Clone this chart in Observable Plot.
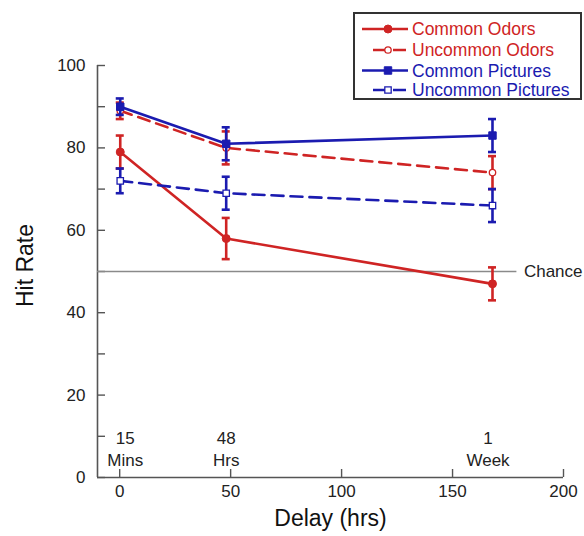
<!DOCTYPE html>
<html>
<head>
<meta charset="utf-8">
<script src="https://cdn.jsdelivr.net/npm/d3@7"></script>
<script src="https://cdn.jsdelivr.net/npm/@observablehq/plot@0.6"></script>
<style>
  body { margin: 0; background: white; }
  #wrap { position: relative; width: 584px; height: 536px; font-family: "Liberation Sans", Arial, sans-serif; }
  #legend { position: absolute; left: 0; top: 0; }
</style>
</head>
<body>
<div id="wrap"></div>
<script>
// ---- data ----
const delays = [0.25, 48, 168];               // hours (15 mins, 48 hrs, 1 week)
const delayLabels = ["15\nMins", "48\nHrs", "1\nWeek"];
const delayLabelX = [2.5, 48, 166];
const seriesNames = ["Common Odors", "Uncommon Odors", "Common Pictures", "Uncommon Pictures"];
const commonOdors = [79, 58, 47];
const commonOdorsErr = [4, 5, 4];
const uncommonOdors = [89, 80, 74];
const uncommonOdorsErr = [2, 4, 4];
const commonPictures = [90, 81, 83];
const commonPicturesErr = [2, 4, 4];
const uncommonPictures = [72, 69, 66];
const uncommonPicturesErr = [3, 4, 4];
const chanceLevel = 50;
const chanceEnd = 179;
const yTicks = [0, 10, 20, 30, 40, 50, 60, 70, 80, 90, 100];
const yLabels = [0, 20, 40, 60, 80, 100];
const xTicks = [0, 50, 100, 150, 200];

// ---- styles ----
const red = "#cf2424";
const blue = "#1b1bb0";
const axisColor = "#555";
const styles = {
  "Common Odors":      {color: red,  dash: null,   symbol: "circle", open: false, r: 4},
  "Uncommon Odors":    {color: red,  dash: "12,7", symbol: "circle", open: true,  r: 3.2},
  "Common Pictures":   {color: blue, dash: null,   symbol: "square", open: false, r: 4.2},
  "Uncommon Pictures": {color: blue, dash: "12,7", symbol: "square", open: true,  r: 3.6}
};
const values = [commonOdors, uncommonOdors, commonPictures, uncommonPictures];
const errs = [commonOdorsErr, uncommonOdorsErr, commonPicturesErr, uncommonPicturesErr];

const rows = [];
seriesNames.forEach((s, i) => delays.forEach((d, j) => rows.push({
  series: s, delay: d, value: values[i][j], lo: values[i][j] - errs[i][j], hi: values[i][j] + errs[i][j]
})));

const seriesMarks = seriesNames.flatMap(s => {
  const st = styles[s];
  const data = rows.filter(r => r.series === s);
  return [
    Plot.line(data, {x: "delay", y: "value", stroke: st.color, strokeWidth: 2.6, strokeDasharray: st.dash}),
    Plot.ruleX(data, {x: "delay", y1: "lo", y2: "hi", stroke: st.color, strokeWidth: 2.6}),
    Plot.ruleY(data, {y: "hi", x1: "delay", x2: "delay", insetLeft: -4, insetRight: -4, stroke: st.color, strokeWidth: 2.6}),
    Plot.ruleY(data, {y: "lo", x1: "delay", x2: "delay", insetLeft: -4, insetRight: -4, stroke: st.color, strokeWidth: 2.6}),
    Plot.dot(data, {x: "delay", y: "value", symbol: st.symbol, r: st.r,
      fill: st.open ? "white" : st.color, stroke: st.color, strokeWidth: st.open ? 1.3 : 1})
  ];
});

const chart = Plot.plot({
  width: 584,
  height: 536,
  marginLeft: 97,
  marginRight: 21,
  marginTop: 65,
  marginBottom: 59,
  x: {domain: [-10, 200]},
  y: {domain: [0, 100]},
  style: {fontFamily: "'Liberation Sans', Arial, sans-serif", fontSize: "17px", color: "#222", background: "white"},
  marks: [
    Plot.ruleX([-10], {y1: 0, y2: 100, stroke: axisColor, strokeWidth: 1.6}),
    Plot.ruleY([0], {x1: -10, x2: 200, stroke: axisColor, strokeWidth: 1.6}),
    Plot.axisY({ticks: yTicks, tickSize: -8, tickPadding: 20, stroke: axisColor, strokeWidth: 1.4,
      tickFormat: d => yLabels.includes(d) ? String(d) : "", label: null, fontSize: 17}),
    Plot.axisX({ticks: xTicks, tickSize: -8, tickPadding: 15, stroke: axisColor, strokeWidth: 1.4,
      tickFormat: d => String(d), label: null, fontSize: 17}),
    Plot.ruleY([chanceLevel], {x1: -10, x2: chanceEnd, stroke: "#8a8a8a", strokeWidth: 1.5}),
    Plot.text([chanceLevel], {x: chanceEnd, y: d => d, text: () => "Chance", textAnchor: "start", dx: 7, fontSize: 17, fill: "#222"}),
    Plot.text(delayLabels, {x: (d, i) => delayLabelX[i], y: 12, text: d => d, lineAnchor: "top", lineHeight: 1.3, fontSize: 17, fill: "#222"}),
    ...seriesMarks,
    Plot.text(["Hit Rate"], {frameAnchor: "left", textAnchor: "middle", dx: -72, dy: -6, rotate: -90, fontSize: 23, fill: "#111"}),
    Plot.text(["Delay (hrs)"], {frameAnchor: "bottom", textAnchor: "middle", dy: 48, fontSize: 23, fill: "#111"})
  ]
});

const wrap = document.getElementById("wrap");
wrap.appendChild(chart);

// ---- legend ----
const leg = d3.select(wrap).append("svg").attr("id", "legend").attr("width", 584).attr("height", 110);
leg.append("rect").attr("x", 354).attr("y", 13).attr("width", 227).attr("height", 86)
  .attr("fill", "white").attr("stroke", "#333").attr("stroke-width", 2);
const rowY = [29, 50, 70.5, 90];
seriesNames.forEach((s, i) => {
  const st = styles[s];
  const g = leg.append("g").attr("transform", `translate(0,${rowY[i]})`);
  if (st.dash) {
    g.append("line").attr("x1", 373).attr("x2", 388).attr("stroke", st.color).attr("stroke-width", 2.5);
    g.append("line").attr("x1", 393).attr("x2", 406).attr("stroke", st.color).attr("stroke-width", 2.5);
  } else {
    g.append("line").attr("x1", 362).attr("x2", 408).attr("stroke", st.color).attr("stroke-width", 2.5);
  }
  const sym = d3.symbol(st.symbol === "circle" ? d3.symbolCircle : d3.symbolSquare, Math.PI * st.r * st.r);
  g.append("path").attr("transform", "translate(388,0)").attr("d", sym())
    .attr("fill", st.open ? "white" : st.color).attr("stroke", st.color).attr("stroke-width", st.open ? 1.3 : 1);
  g.append("text").attr("x", 412).attr("y", 0).attr("dy", "0.35em").attr("fill", st.color)
    .attr("font-size", 17.5).attr("font-family", "'Liberation Sans', Arial, sans-serif").text(s);
});
</script>
</body>
</html>
